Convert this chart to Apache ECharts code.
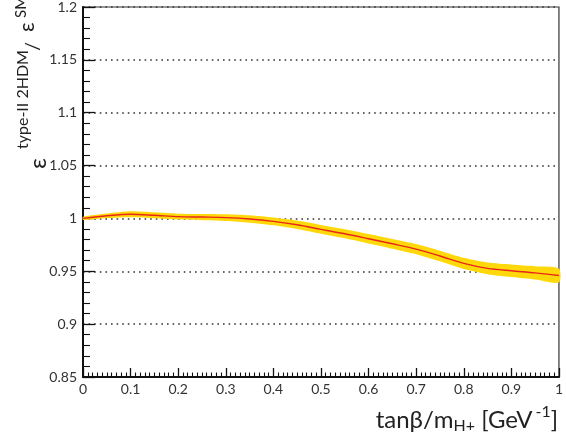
<!DOCTYPE html>
<html>
<head>
<meta charset="utf-8">
<script src="https://cdn.jsdelivr.net/npm/echarts@6/dist/echarts.min.js"></script>
<style>html,body{margin:0;padding:0;background:#fff}#c{width:566px;height:440px}</style>
</head>
<body>
<div id="c"></div>
<script>
const xValues = [0, 0.05, 0.1, 0.15, 0.2, 0.25, 0.3, 0.35, 0.4, 0.45, 0.5, 0.55, 0.6, 0.65, 0.7, 0.75, 0.8, 0.85, 0.9, 0.95, 1.0];
const ratio = [1.000, 1.0025, 1.0040, 1.0030, 1.0017, 1.0013, 1.0008, 0.9995, 0.9972, 0.9940, 0.9897, 0.9855, 0.9808, 0.9760, 0.9710, 0.9645, 0.9575, 0.9528, 0.9505, 0.9485, 0.9460];
const bandHalfWidth = [0.0015, 0.0022, 0.0028, 0.0028, 0.0028, 0.0030, 0.0032, 0.0035, 0.0037, 0.0040, 0.0042, 0.0043, 0.0045, 0.0046, 0.0048, 0.0050, 0.0053, 0.0056, 0.0060, 0.0063, 0.0066];
const yTickLabels = ['0.85', '0.9', '0.95', '1', '1.05', '1.1', '1.15', '1.2'];
const xTickLabels = ['0', '0.1', '0.2', '0.3', '0.4', '0.5', '0.6', '0.7', '0.8', '0.9', '1'];

const bandData = xValues.map((x, i) => [x, ratio[i] - bandHalfWidth[i], ratio[i] + bandHalfWidth[i]]);
const centralData = xValues.map((x, i) => [x, ratio[i]]);

const FONT = "Lato, 'DejaVu Sans', sans-serif";
const rotText = (text, x, y, size) => ({type: 'text', x: x, y: y, rotation: Math.PI / 2,
  style: {text: text, align: 'left', verticalAlign: 'middle', fontFamily: FONT, fontSize: size, fill: '#222'}});

const chart = echarts.init(document.getElementById('c'), null, {renderer: 'canvas'});
chart.setOption({
  animation: false,
  backgroundColor: '#fff',
  grid: {left: 83, right: 3, top: 4, bottom: 63, show: true, borderColor: '#333', borderWidth: 1.2, backgroundColor: 'transparent'},
  xAxis: {
    type: 'value', min: 0, max: 1, interval: 0.1,
    axisLine: {show: true, onZero: false, lineStyle: {color: '#111', width: 2}},
    axisTick: {show: true, inside: true, length: 9, lineStyle: {color: '#111', width: 1.3}},
    minorTick: {show: true, splitNumber: 10, length: 4.5, lineStyle: {color: '#111', width: 1.1}},
    splitLine: {show: false},
    axisLabel: {margin: 5, color: '#333', fontFamily: FONT, fontSize: 14,
      formatter: (v) => { const i = Math.round(v * 10); return xTickLabels[i] !== undefined ? xTickLabels[i] : ''; }}
  },
  yAxis: {
    type: 'value', min: 0.85, max: 1.2, interval: 0.05,
    axisLine: {show: true, onZero: false, lineStyle: {color: '#111', width: 2}},
    axisTick: {show: true, inside: true, length: 12, lineStyle: {color: '#111', width: 1.3}},
    minorTick: {show: true, splitNumber: 5, length: 7, lineStyle: {color: '#111', width: 1.1}},
    splitLine: {show: true, lineStyle: {color: '#333', width: 1.6, type: [1.6, 4]}},
    axisLabel: {margin: 6, color: '#333', fontFamily: FONT, fontSize: 14,
      formatter: (v) => { const i = Math.round((v - 0.85) / 0.05); return yTickLabels[i] !== undefined ? yTickLabels[i] : ''; }}
  },
  series: [
    {type: 'custom', data: [0], silent: true, z: 3,
      renderItem: function (params, api) {
        const upper = bandData.map(d => api.coord([d[0], d[2]]));
        const lower = bandData.map(d => api.coord([d[0], d[1]])).reverse();
        return {type: 'polygon', shape: {points: upper.concat(lower), smooth: 0.25},
          style: {fill: '#ffd80a', stroke: null}};
      }},
    {type: 'line', data: centralData, symbol: 'none', smooth: 0.3,
      lineStyle: {color: '#e8261c', width: 1.4}, z: 5}
  ],
  graphic: [
    rotText('ε', 38, 169, 24),
    rotText('type-II 2HDM', 23, 149, 16),
    rotText('/', 33, 51, 20),
    rotText('ε', 27, 32, 21),
    rotText('SM', 21, 18, 15),
    {type: 'text', x: 558, y: 420,
      style: {text: '{m|tanβ/m}{sub|H+}{m| [GeV}{sup|-1}{m|]}', align: 'right', verticalAlign: 'middle',
        rich: {
          m: {fontFamily: FONT, fontSize: 24, fill: '#222', lineHeight: 32, verticalAlign: 'middle'},
          sub: {fontFamily: FONT, fontSize: 16, fill: '#222', lineHeight: 32, verticalAlign: 'bottom', padding: [0, 0, 2, 0]},
          sup: {fontFamily: FONT, fontSize: 16, fill: '#222', lineHeight: 32, verticalAlign: 'top', padding: [0, 0, 0, 3]}
        }}}
  ]
});
</script>
</body>
</html>
